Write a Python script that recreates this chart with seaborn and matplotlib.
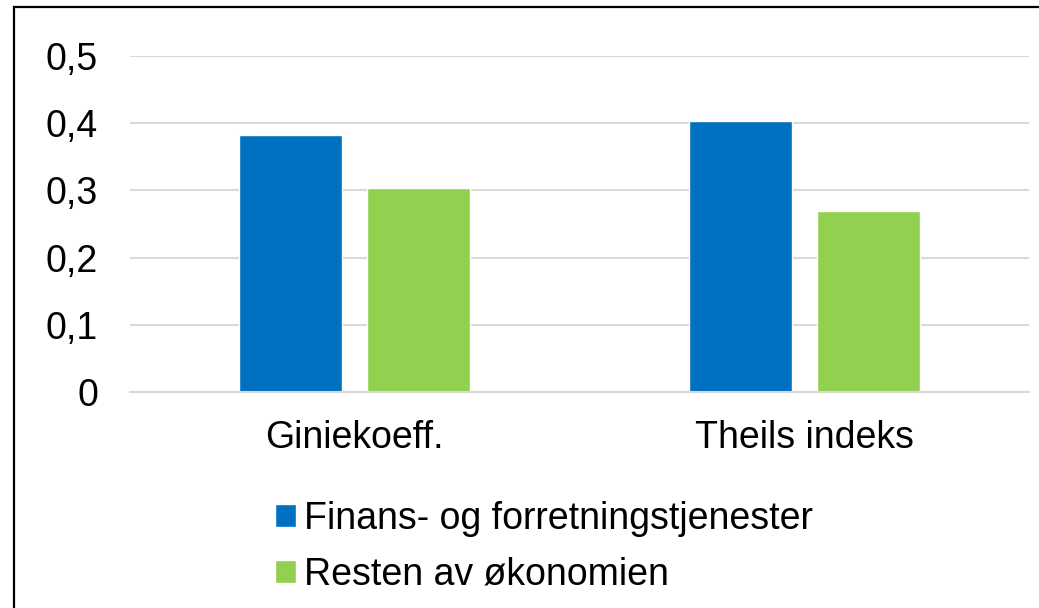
import matplotlib
matplotlib.use("Agg")
import matplotlib.pyplot as plt
import matplotlib.patches as mpatches
import seaborn as sns
import pandas as pd

categories = ["Giniekoeff.", "Theils indeks"]
series_names = ["Finans- og forretningstjenester", "Resten av økonomien"]
finans_values = [0.382, 0.403]
resten_values = [0.303, 0.270]
y_ticks = [0, 0.1, 0.2, 0.3, 0.4, 0.5]
y_tick_labels = ["0", "0,1", "0,2", "0,3", "0,4", "0,5"]
colors = ["#0070C0", "#92D050"]

df = pd.DataFrame({
    "kategori": categories * 2,
    "serie": [series_names[0]] * 2 + [series_names[1]] * 2,
    "verdi": finans_values + resten_values,
})

sns.set_style("white")
plt.rcParams["font.family"] = ["Liberation Sans", "DejaVu Sans"]
plt.rcParams["text.color"] = "black"
plt.rcParams["xtick.color"] = "black"
plt.rcParams["ytick.color"] = "black"

fig = plt.figure(figsize=(10.39, 6.08), dpi=100)
ax = fig.add_axes([130 / 1039, 1 - 392 / 608, 899 / 1039, 336 / 608])

sns.barplot(data=df, x="kategori", y="verdi", hue="serie", hue_order=series_names,
            palette=colors, width=0.569, gap=0.194, saturation=1, ax=ax)

ax.set_xlim(-0.5, 1.5)
ax.set_ylim(0, 0.5)
ax.set_yticks(y_ticks)
ax.set_yticklabels(y_tick_labels)
ax.set_xlabel("")
ax.set_ylabel("")
ax.tick_params(axis="y", length=0, pad=23, labelsize=27)
ax.tick_params(axis="x", length=0, pad=20, labelsize=27)
ax.yaxis.grid(True, color="#D9D9D9", linewidth=1.5)
ax.set_axisbelow(True)
for side in ["top", "right", "left"]:
    ax.spines[side].set_visible(False)
ax.spines["bottom"].set_color("#D9D9D9")
ax.spines["bottom"].set_linewidth(1.5)

handles, labels = ax.get_legend_handles_labels()
ax.get_legend().remove()
fig.legend(handles, labels, loc="upper left", bbox_to_anchor=(260 / 1039, 1 - 486 / 608),
           frameon=False, fontsize=27, handlelength=0.56, handleheight=0.56,
           handletextpad=0.2, labelspacing=0.53, borderaxespad=0)

# outer frame (only top and left edges are visible in the crop)
fig.add_artist(mpatches.Rectangle((14 / 1039, -0.1), 1.2, 1.1 - 7 / 608,
                                  transform=fig.transFigure, fill=False,
                                  edgecolor="black", linewidth=1.6))

fig.savefig("out.png", dpi=100)
